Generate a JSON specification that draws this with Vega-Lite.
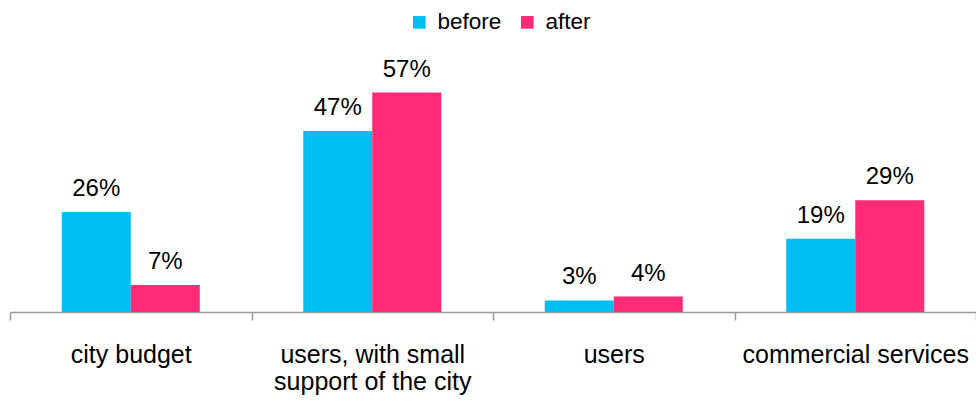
{
  "$schema": "https://vega.github.io/schema/vega-lite/v6.json",
  "width": 966,
  "height": 231,
  "autosize": {"type": "none"},
  "padding": {"left": 10, "top": 81, "right": 0, "bottom": 89},
  "config": {"font": "Liberation Sans", "view": {"stroke": null}},
  "data": {
    "values": [
      {"source": "city budget", "period": "before", "share": 0.26},
      {"source": "city budget", "period": "after", "share": 0.07},
      {"source": "users, with small support of the city", "period": "before", "share": 0.47},
      {"source": "users, with small support of the city", "period": "after", "share": 0.57},
      {"source": "users", "period": "before", "share": 0.03},
      {"source": "users", "period": "after", "share": 0.04},
      {"source": "commercial services", "period": "before", "share": 0.19},
      {"source": "commercial services", "period": "after", "share": 0.29}
    ]
  },
  "encoding": {
    "x": {
      "field": "source",
      "type": "nominal",
      "sort": null,
      "scale": {"paddingInner": 0, "paddingOuter": 0},
      "axis": {
        "title": null,
        "labelAngle": 0,
        "tickBand": "extent",
        "tickSize": 8,
        "tickColor": "#999999",
        "tickWidth": 1.5,
        "domainColor": "#999999",
        "domainWidth": 1.5,
        "labelFontSize": 25,
        "labelColor": "#000000",
        "labelPadding": 22,
        "labelLineHeight": 27,
        "labelLimit": 0,
        "labelExpr": "datum.label == 'users, with small support of the city' ? ['users, with small', 'support of the city'] : datum.label"
      }
    },
    "xOffset": {
      "field": "period",
      "type": "nominal",
      "sort": ["before", "after"],
      "scale": {"paddingInner": 0, "paddingOuter": 0.75}
    },
    "y": {
      "field": "share",
      "type": "quantitative",
      "scale": {"domain": [0, 0.6]},
      "axis": null
    }
  },
  "layer": [
    {
      "mark": {"type": "bar"},
      "encoding": {
        "color": {
          "field": "period",
          "type": "nominal",
          "sort": ["before", "after"],
          "scale": {"domain": ["before", "after"], "range": ["#00BEF2", "#FF2B78"]},
          "legend": {
            "title": null,
            "orient": "none",
            "direction": "horizontal",
            "legendX": 398,
            "legendY": -70,
            "padding": 0,
            "symbolType": "square",
            "symbolSize": 160,
            "symbolStrokeWidth": 0,
            "labelFontSize": 22.5,
            "labelColor": "#000000",
            "labelOffset": 7,
            "columnPadding": 14
          }
        }
      }
    },
    {
      "mark": {"type": "text", "baseline": "alphabetic", "dy": -16, "fontSize": 24, "color": "#000000"},
      "encoding": {
        "text": {"field": "share", "type": "quantitative", "format": ".0%"},
        "detail": {"field": "period"}
      }
    }
  ]
}
